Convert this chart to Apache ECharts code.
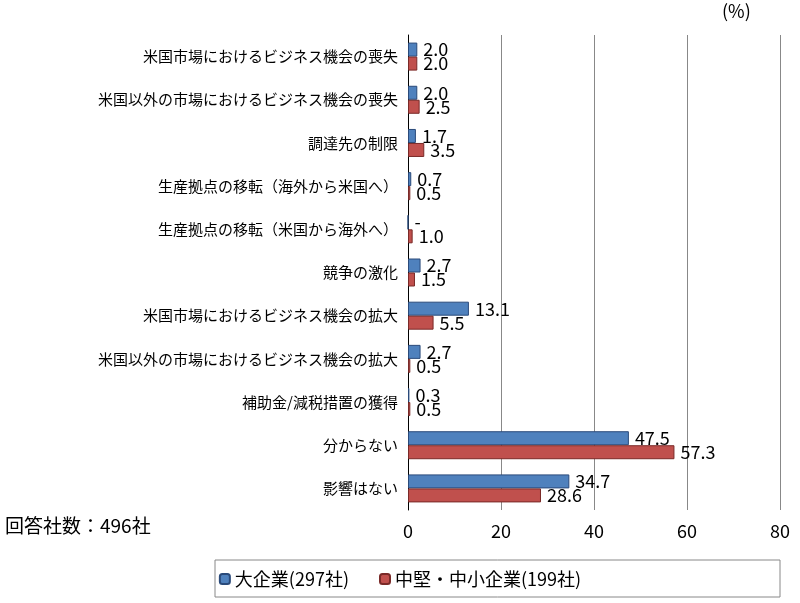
<!DOCTYPE html>
<html><head><meta charset="utf-8">
<script src="https://cdn.jsdelivr.net/npm/echarts@6/dist/echarts.min.js"></script>
<style>html,body{margin:0;padding:0;background:#fff}#c{width:800px;height:603px}</style>
</head><body><div id="c"></div>
<script>
const categories = ["米国市場におけるビジネス機会の喪失","米国以外の市場におけるビジネス機会の喪失","調達先の制限","生産拠点の移転（海外から米国へ）","生産拠点の移転（米国から海外へ）","競争の激化","米国市場におけるビジネス機会の拡大","米国以外の市場におけるビジネス機会の拡大","補助金/減税措置の獲得","分からない","影響はない"];
const large = [2.0,2.0,1.7,0.7,0,2.7,13.1,2.7,0.3,47.5,34.7];
const sme = [2.0,2.5,3.5,0.5,1.0,1.5,5.5,0.5,0.5,57.3,28.6];
const xTicks = [0,20,40,60,80];
const FONT = '"Noto Sans CJK JP", sans-serif';
const chart = echarts.init(document.getElementById('c'));
const lbl = {show:true, position:'right', fontSize:18, color:'#000', fontFamily:FONT, distance:6};
chart.setOption({
  animation:false,
  textStyle:{fontFamily:FONT},
  grid:{left:408, right:20, top:35, bottom:93},
  graphic:[
    {type:'text', left:5, top:516, style:{text:'回答社数：496社', fontSize:19, fill:'#000', fontFamily:FONT}},
    {type:'text', left:722, top:2, style:{text:'(%)', fontSize:18, fill:'#000', fontFamily:FONT}},
    {type:'rect', shape:{x:215, y:560, width:565, height:37}, style:{fill:'none', stroke:'#888', lineWidth:1}}
  ],
  legend:{bottom:10, left:'center', itemWidth:10, itemHeight:10, itemGap:30,
    textStyle:{fontSize:18, color:'#000', fontFamily:FONT},
    data:['大企業(297社)','中堅・中小企業(199社)']},
  xAxis:{type:'value', min:0, max:80, interval:20, position:'bottom',
    axisLine:{show:false}, axisTick:{show:false},
    axisLabel:{fontSize:18, color:'#000', margin:12, formatter:v=>xTicks.includes(v)?String(v):''},
    splitLine:{lineStyle:{color:'#888'}}},
  yAxis:{type:'category', inverse:true, data:categories,
    axisLine:{lineStyle:{color:'#000'}}, axisTick:{show:false},
    axisLabel:{fontSize:15, color:'#000', margin:10, fontFamily:FONT}},
  series:[
    {name:'大企業(297社)', type:'bar', data:large, barWidth:14, barGap:'0%',
     itemStyle:{color:'#4F81BD', borderColor:'#2a4a7a', borderWidth:1},
     label:Object.assign({}, lbl, {formatter:p=>p.value===0?'-':p.value.toFixed(1)})},
    {name:'中堅・中小企業(199社)', type:'bar', data:sme, barWidth:14,
     itemStyle:{color:'#C0504D', borderColor:'#7a2a28', borderWidth:1},
     label:Object.assign({}, lbl, {formatter:p=>p.value.toFixed(1)})}
  ]
});
</script></body></html>
